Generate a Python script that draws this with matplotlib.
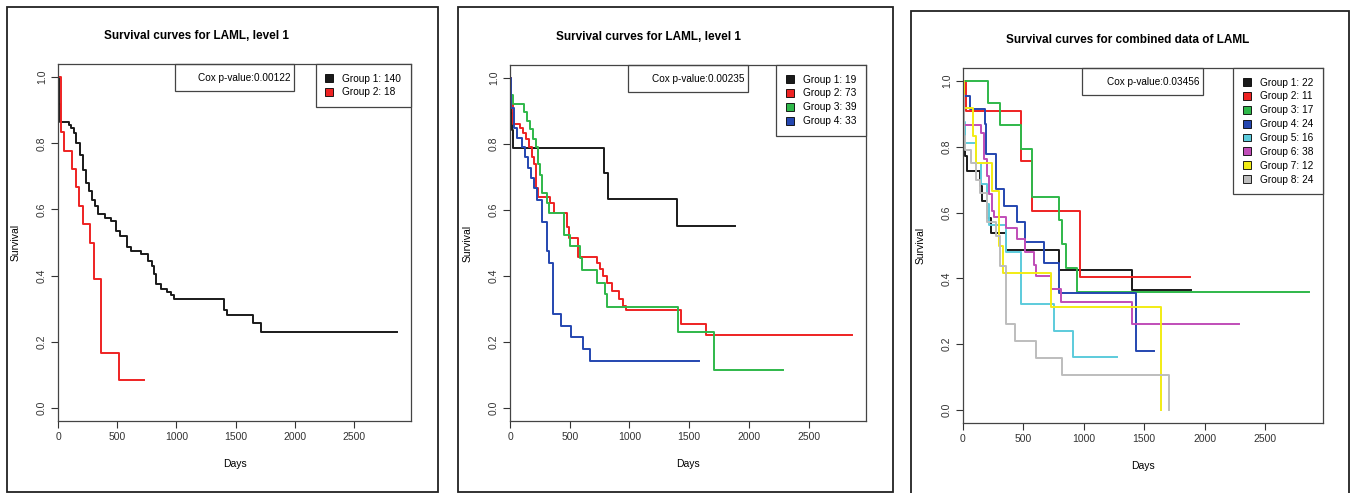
import matplotlib
matplotlib.use("Agg")
import matplotlib.pyplot as plt
from matplotlib.patches import Rectangle, Patch

plt.rcParams['font.family'] = ['Liberation Sans', 'DejaVu Sans']

# ---- panel 1 data (level 1, two groups)
p1_titles = "Survival curves for LAML, level 1"
p1_pval = "Cox p-value:0.00122"
p1_labels = ["Group 1: 140", "Group 2: 18"]
p1_g1_t = [0, 5, 20, 90, 110, 135, 155, 185, 210, 235, 260, 285, 310, 340, 400, 450, 490, 520,
           580, 620, 700, 760, 790, 810, 830, 870, 920, 950, 980, 1400, 1430, 1650, 1710, 2865]
p1_g1_s = [1.0, 0.92, 0.865, 0.855, 0.845, 0.83, 0.80, 0.765, 0.72, 0.68, 0.655, 0.63, 0.61, 0.585,
           0.575, 0.565, 0.535, 0.52, 0.485, 0.475, 0.465, 0.445, 0.43, 0.405, 0.375, 0.36, 0.35,
           0.34, 0.33, 0.295, 0.28, 0.255, 0.23, 0.23]
p1_g2_t = [0, 28, 48, 121, 150, 175, 211, 273, 307, 363, 515, 726]
p1_g2_s = [1.0, 0.833, 0.778, 0.722, 0.667, 0.611, 0.556, 0.5, 0.389, 0.167, 0.083, 0.083]

# ---- panel 2 data (level 1, four groups)
p2_title = "Survival curves for LAML, level 1"
p2_pval = "Cox p-value:0.00235"
p2_labels = ["Group 1: 19", "Group 2: 73", "Group 3: 39", "Group 4: 33"]
p2_g1_t = [0, 5, 10, 15, 22, 789, 817, 1402, 1887]
p2_g1_s = [1.0, 0.947, 0.895, 0.842, 0.789, 0.711, 0.632, 0.553, 0.553]
p2_g2_t = [0, 5, 28, 84, 111, 134, 160, 181, 203, 217, 237, 334, 370, 474, 490, 571, 725, 752,
           780, 808, 850, 914, 942, 967, 1430, 1644, 2862]
p2_g2_s = [1.0, 0.92, 0.862, 0.85, 0.835, 0.815, 0.79, 0.76, 0.74, 0.667, 0.64, 0.62, 0.59, 0.55,
           0.515, 0.457, 0.44, 0.42, 0.40, 0.38, 0.355, 0.33, 0.31, 0.296, 0.255, 0.22, 0.22]
p2_g3_t = [0, 28, 117, 139, 167, 190, 215, 237, 255, 270, 307, 326, 454, 502, 585, 600, 725,
           794, 814, 1407, 1706, 2285]
p2_g3_s = [0.948, 0.923, 0.897, 0.87, 0.845, 0.814, 0.79, 0.74, 0.705, 0.652, 0.62, 0.59, 0.525,
           0.49, 0.455, 0.419, 0.38, 0.345, 0.306, 0.23, 0.115, 0.115]
p2_g4_t = [0, 5, 33, 56, 98, 125, 148, 176, 200, 223, 265, 307, 329, 362, 426, 507, 608, 669, 1583]
p2_g4_s = [1.0, 0.91, 0.85, 0.82, 0.79, 0.76, 0.727, 0.697, 0.667, 0.63, 0.565, 0.475, 0.44,
           0.284, 0.249, 0.215, 0.178, 0.143, 0.143]

# ---- panel 3 data (combined, eight groups)
p3_title = "Survival curves for combined data of LAML"
p3_pval = "Cox p-value:0.03456"
p3_labels = ["Group 1: 22", "Group 2: 11", "Group 3: 17", "Group 4: 24",
             "Group 5: 16", "Group 6: 38", "Group 7: 12", "Group 8: 24"]
p3_g1_t = [0, 3, 6, 10, 15, 20, 30, 138, 160, 201, 229, 358, 794, 1400, 1888]
p3_g1_s = [1.0, 0.955, 0.909, 0.864, 0.818, 0.773, 0.727, 0.682, 0.636, 0.583, 0.537, 0.486,
           0.426, 0.365, 0.365]
p3_g2_t = [0, 22, 482, 573, 970, 1883]
p3_g2_s = [1.0, 0.909, 0.757, 0.606, 0.404, 0.404]
p3_g3_t = [0, 207, 303, 482, 573, 791, 819, 854, 943, 2867]
p3_g3_s = [1.0, 0.935, 0.866, 0.795, 0.649, 0.577, 0.505, 0.433, 0.36, 0.36]
p3_g4_t = [0, 5, 55, 179, 190, 270, 336, 447, 510, 670, 791, 1428, 1579]
p3_g4_s = [1.0, 0.955, 0.916, 0.87, 0.777, 0.672, 0.62, 0.57, 0.512, 0.448, 0.357, 0.18, 0.18]
p3_g5_t = [0, 5, 10, 14, 110, 152, 201, 215, 358, 482, 752, 910, 1276]
p3_g5_s = [1.0, 0.937, 0.875, 0.813, 0.75, 0.688, 0.625, 0.561, 0.479, 0.322, 0.241, 0.16, 0.16]
p3_g6_t = [0, 3, 10, 152, 175, 200, 218, 240, 260, 358, 447, 510, 587, 606, 730, 813, 1400, 2282]
p3_g6_s = [1.0, 0.921, 0.868, 0.842, 0.763, 0.711, 0.658, 0.605, 0.586, 0.553, 0.519, 0.48,
           0.44, 0.408, 0.368, 0.327, 0.26, 0.26]
p3_g7_t = [0, 5, 83, 110, 240, 298, 331, 730, 1640, 1640]
p3_g7_s = [1.0, 0.917, 0.833, 0.75, 0.667, 0.5, 0.417, 0.313, 0.0, 0.0]
p3_g8_t = [0, 3, 6, 10, 20, 69, 110, 138, 201, 270, 303, 358, 427, 601, 819, 1703, 1703]
p3_g8_s = [1.0, 0.958, 0.917, 0.833, 0.79, 0.75, 0.70, 0.661, 0.57, 0.53, 0.438, 0.262, 0.21,
           0.158, 0.105, 0.0, 0.0]

colors = ['#1a1a1a', '#ee2222', '#2fb84a', '#2446b0', '#5ccbdc', '#c04db8', '#f2ec14', '#bdbdbd']

W, H = 1355, 493
fig = plt.figure(figsize=(W / 100, H / 100), dpi=100)


def px_axes(l, t, r, b):
    return fig.add_axes([l / W, (H - b) / H, (r - l) / W, (b - t) / H])


def frame(l, t, r, b):
    fig.add_artist(Rectangle((l / W, (H - b) / H), (r - l) / W, (b - t) / H,
                             transform=fig.transFigure, fill=False, ec='#222222', lw=1.3))


def panel(ax, curves, labels, pval, title, tx, ty):
    for i, (t, s) in enumerate(curves):
        ax.step(t, s, where='post', color=colors[i], lw=1.4)
    ax.set_xlim(0, 2980)
    ax.set_ylim(-0.04, 1.04)
    ax.set_xticks([0, 500, 1000, 1500, 2000, 2500])
    ax.set_yticks([0, 0.2, 0.4, 0.6, 0.8, 1.0])
    ax.set_yticklabels(['0.0', '0.2', '0.4', '0.6', '0.8', '1.0'], rotation=90, va='center')
    ax.tick_params(length=5, width=0.8, colors='#333333', labelsize=7.5, pad=3)
    for sp in ax.spines.values():
        sp.set_color('#444444')
        sp.set_linewidth(0.9)
    ax.set_xlabel('Days', fontsize=7.5, labelpad=12)
    ax.set_ylabel('Survival', fontsize=7.5, labelpad=12)
    # cox p-value box
    ax.add_patch(Rectangle((0.331, 1 - 0.077), 0.337, 0.077, transform=ax.transAxes,
                           fill=False, ec='#444444', lw=0.9, clip_on=False))
    ax.text(0.658, 1 - 0.0385, pval, transform=ax.transAxes, ha='right', va='center', fontsize=7.2)
    handles = [Patch(facecolor=colors[i], edgecolor='black', lw=0.6) for i in range(len(labels))]
    leg = ax.legend(handles, labels, loc='upper right', borderaxespad=0, fancybox=False,
                    framealpha=1, edgecolor='#444444', fontsize=7.3, handlelength=0.8,
                    handleheight=0.8, handletextpad=0.9, labelspacing=0.38, borderpad=0.95)
    leg.get_frame().set_linewidth(0.9)
    fig.text(tx / W, 1 - ty / H, title, ha='center', va='center', fontsize=8.5, fontweight='bold')


frame(7, 7, 438, 492)
frame(458, 7, 893, 492)
frame(911, 11, 1349, 500)

ax1 = px_axes(58, 64, 411, 421)
panel(ax1, [(p1_g1_t, p1_g1_s), (p1_g2_t, p1_g2_s)], p1_labels, p1_pval, p1_titles, 197, 36)

ax2 = px_axes(510, 65, 866, 421)
panel(ax2, [(p2_g1_t, p2_g1_s), (p2_g2_t, p2_g2_s), (p2_g3_t, p2_g3_s), (p2_g4_t, p2_g4_s)],
      p2_labels, p2_pval, p2_title, 649, 37)

ax3 = px_axes(963, 68, 1323, 423)
panel(ax3, [(p3_g1_t, p3_g1_s), (p3_g2_t, p3_g2_s), (p3_g3_t, p3_g3_s), (p3_g4_t, p3_g4_s),
            (p3_g5_t, p3_g5_s), (p3_g6_t, p3_g6_s), (p3_g7_t, p3_g7_s), (p3_g8_t, p3_g8_s)],
      p3_labels, p3_pval, p3_title, 1128, 40)

fig.savefig('out.png', dpi=100)
